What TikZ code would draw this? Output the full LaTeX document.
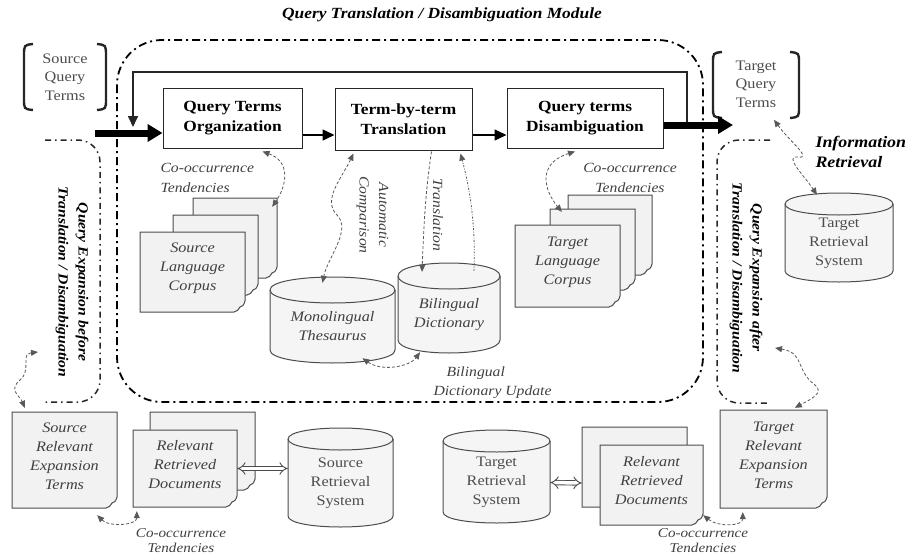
\documentclass[tikz,border=0pt]{standalone}
\usepackage{fontspec}
\setmainfont[FakeStretch=1.12]{Liberation Serif}
\usetikzlibrary{arrows.meta,calc}

\newcommand\txtsz{\fontsize{14.5}{19}\selectfont}
\newcommand\boxsz{\fontsize{15.5}{20}\selectfont}
\newcommand\lblsz{\fontsize{14}{19.5}\selectfont}

\tikzset{
  procbox/.style={draw=black!85,line width=1pt,fill=white,align=center,font=\boxsz\bfseries,inner sep=2pt},
  pagebody/.style={draw=black!70,line width=1pt,fill=black!5},
  pagetext/.style={align=center,font=\txtsz\itshape,text=black!75},
  cylbody/.style={draw=black!70,line width=1pt,fill=black!4},
  cylit/.style={align=center,font=\txtsz\itshape,text=black!75},
  cylrm/.style={align=center,font=\txtsz,text=black!70},
  modborder/.style={draw=black,line width=1.8pt,dash pattern=on 8pt off 4pt on 2pt off 4pt},
  regborder/.style={draw=black!85,line width=1.5pt,dash pattern=on 6pt off 4pt on 1.5pt off 4pt},
  thickarrow/.style={line width=7pt,-{Triangle[length=15pt,width=17pt]}},
  thinarrow/.style={line width=1.5pt,-{Triangle[length=12pt,width=11pt]}},
  fbline/.style={line width=1.6pt,draw=black!85,-{Triangle[length=11pt,width=10pt]}},
  conn/.style={draw=black!65,line width=0.8pt,dash pattern=on 3pt off 2pt},
  ct/.tip={Triangle[length=7pt,width=6pt]},
  bracket/.style={line width=2.4pt,draw=black!85},
  dblarrow/.style={draw=black!70,line width=0.9pt,double=white,double distance=3.5pt,{Implies}-{Implies}},
  lbl/.style={align=center,font=\lblsz\itshape,text=black!75},
  botlbl/.style={align=center,font=\fontsize{13.5}{15}\selectfont\itshape,text=black!75},
  bilbl/.style={align=left,font=\fontsize{16}{20}\selectfont\bfseries\itshape},
  regtext/.style={align=center,font=\fontsize{14}{20}\selectfont\bfseries\itshape,rotate=-90},
  qtxt/.style={align=center,font=\fontsize{14.5}{18.5}\selectfont,text=black!70},
}

% cylinder: name, x1, ytop, x2, ybot, ry, text style, text
\newcommand\dbcyl[8]{%
  \pgfmathsetmacro\cylcx{(#2+#4)/2}%
  \pgfmathsetmacro\cyla{#3+#6}%
  \pgfmathsetmacro\cylb{#5-#6}%
  \pgfmathsetmacro\cylcy{(#3+#5)/2}%
  \pgfmathsetmacro\cylk{1.333*#6}%
  \filldraw[cylbody] (#2,\cyla) -- (#2,\cylb) .. controls (#2,\cylb+\cylk) and (#4,\cylb+\cylk) .. (#4,\cylb)
     -- (#4,\cyla) .. controls (#4,\cyla-\cylk) and (#2,\cyla-\cylk) .. (#2,\cyla) -- cycle;
  \draw[cylbody,fill=none] (#2,\cyla) .. controls (#2,\cyla+\cylk) and (#4,\cyla+\cylk) .. (#4,\cyla);
  \node[inner sep=0pt,minimum width={(#4-#2)*1pt},minimum height={(#5-#3)*1pt},
        label={[#7,yshift={-0.5*#6*1pt}]center:{#8}}] (#1) at (\cylcx,\cylcy) {};
}

% document page: name, x1, y1, x2, y2, text
\newcommand\docpage[6]{%
  \filldraw[pagebody] (#2,#3) -- (#4,#3) -- (#4,#5-11) .. controls (#4-1,#5-7) and (#4-3,#5-5) .. (#4-5,#5-5)
     .. controls (#4-6,#5-2) and (#4-8,#5-1) .. (#4-11,#5) -- (#2,#5) -- cycle;
  \node[inner sep=0pt,minimum width={(#4-#2)*1pt},minimum height={(#5-#3)*1pt},
        label={[pagetext,yshift=4pt]center:{#6}}] (#1) at ({(#2+#4)/2},{(#3+#5)/2}) {};
}

\begin{document}
\begin{tikzpicture}[x=1pt,y=-1pt]
\useasboundingbox (0,0) rectangle (911,558);

% title
\node[font=\fontsize{15.5}{18}\selectfont\bfseries\itshape] (title) at (442,15) {Query Translation / Disambiguation Module};

% regions
\draw[modborder,rounded corners=45pt] (117,40) rectangle (703,402);
\draw[regborder,rounded corners=22pt] (45,140) -- (100,140) -- (100,402) -- (45,402);
\draw[regborder,rounded corners=22pt] (770,140) -- (717,140) -- (717,403) -- (770,403);
\node[regtext] (qeb) at (72,282) {Query Expansion before\\Translation / Disambiguation};
\node[regtext] (qea) at (746,278) {Query Expansion after\\Translation / Disambiguation};

% query term brackets
\node[qtxt] (srcq) at (65,77) {Source\\Query\\Terms};
\draw[bracket] (33,44) .. controls (24,45) .. (24,56) -- (24,99) .. controls (24,109) .. (33,110);
\draw[bracket] (97,44) .. controls (106,45) .. (106,56) -- (106,99) .. controls (106,109) .. (97,110);
\node[qtxt] (tgtq) at (756,84) {Target\\Query\\Terms};
\draw[bracket] (722,52) .. controls (713,53) .. (713,63) -- (713,107) .. controls (713,117) .. (722,118);
\draw[bracket] (790,52) .. controls (799,53) .. (799,63) -- (799,107) .. controls (799,117) .. (790,118);

% process boxes
\node[procbox,minimum width=139pt,minimum height=60pt] (qto) at (232.5,118) {Query Terms\\Organization};
\node[procbox,minimum width=137pt,minimum height=62pt] (tbt) at (403.5,119) {Term-by-term\\Translation};
\node[procbox,minimum width=156pt,minimum height=60pt] (qtd) at (585,118) {Query terms\\Disambiguation};

% main flow
\coordinate (inL) at (95,133);
\coordinate (midy) at (0,135);
\coordinate (tgtIn) at (733,125);
\coordinate (fbR) at (687,125);
\coordinate (fbTop) at (400,72);
\coordinate (fbL) at (133,127);
\draw[fbline] (fbR) |- (fbTop) -| (fbL);
\draw[thickarrow] (inL) -- (inL -| qto.west);
\draw[thinarrow] (qto.east |- midy) -- (tbt.west |- midy);
\draw[thinarrow] (tbt.east |- midy) -- (qtd.west |- midy);
\draw[thickarrow] (qtd.east |- tgtIn) -- (tgtIn);

% corpora
\docpage{srccorp3}{193}{198}{277}{278}{}
\docpage{srccorp2}{173}{215}{258}{295}{}
\docpage{srccorp}{140}{232}{245}{312}{Source\\Language\\Corpus}
\docpage{tgtcorp3}{568}{195}{652}{275}{}
\docpage{tgtcorp2}{550}{209}{635}{290}{}
\docpage{tgtcorp}{515}{225}{620}{307}{Target\\Language\\Corpus}

% databases
\dbcyl{mono}{270}{277}{395}{363}{13}{cylit}{Monolingual\\Thesaurus}
\dbcyl{bili}{398}{263}{500}{353}{13}{cylit}{Bilingual\\Dictionary}
\dbcyl{trs}{785}{193}{893}{282}{11}{cylrm}{Target\\Retrieval\\System}
\dbcyl{srs}{288}{428}{393}{527}{11}{cylrm}{Source\\Retrieval\\System}
\dbcyl{trs2}{443}{430}{550}{523}{11}{cylrm}{Target\\Retrieval\\System}

% bottom documents
\docpage{srelexp}{12}{412}{117}{508}{Source\\Relevant\\Expansion\\Terms}
\docpage{relL2}{150}{412}{255}{490}{}
\docpage{relL}{133}{430}{237}{507}{Relevant\\Retrieved\\Documents}
\docpage{relR2}{582}{427}{687}{507}{}
\docpage{relR}{600}{445}{703}{525}{Relevant\\Retrieved\\Documents}
\docpage{trelexp}{720}{410}{827}{508}{Target\\Relevant\\Expansion\\Terms}

\draw[dblarrow] (relL.east) -- (relL.east -| srs.west);
\draw[dblarrow] ($(trs2.east)+(0,6)$) -- ($(relR2.west)+(0,16)$);

% labels
\node[lbl,anchor=west,align=left] (coL) at (157,178) {Co-occurrence\\Tendencies};
\node[lbl] (coR) at (630,178) {Co-occurrence\\Tendencies};
\node[botlbl] (coBL) at (181,541) {Co-occurrence\\Tendencies};
\node[botlbl] (coBR) at (703,541) {Co-occurrence\\Tendencies};
\node[lbl,rotate=-90] (autoc) at (372.5,215) {Automatic\\Comparison};
\node[lbl,rotate=-90] (transl) at (438,215) {Translation};
\node[lbl,anchor=west] (bdu1) at (443,373) {Bilingual};
\node[lbl,anchor=west] (bdu2) at (430,392) {Dictionary Update};
\node[bilbl,anchor=west] (ir) at (812,152) {Information\\Retrieval};

% dashed connectors
\draw[conn,{ct}-{ct}] ($(qto.south)+(30,3)$) .. controls +(28,10) and +(15,-22) .. ($(srccorp3.north east)+(-5,9)$);
\draw[conn,{ct}-{ct}] ($(qtd.south)+(-10,3)$) .. controls +(-38,12) and +(-18,-22) .. ($(tgtcorp2.north west)+(12,3)$);
\coordinate (acmid) at (337,215);
\draw[conn,{ct}-{ct}] ($(tbt.south)+(-50,3)$) .. controls +(-12,25) and +(-15,-15) .. (acmid) .. controls +(15,15) and +(5,-25) .. ($(mono.north)+(-10,6)$);
\draw[conn,-{ct}] ($(tbt.south)+(28,1)$) .. controls +(-6,40) and +(2,-50) .. ($(bili.north)+(-27,9)$);
\draw[conn,dash pattern=on 2pt off 1.5pt on 0.8pt off 1.5pt,-{ct}] ($(bili.north)+(25,8)$) .. controls +(2,-50) and +(8,30) .. ($(tbt.south)+(57,3)$);
\draw[conn,{ct}-{ct}] ($(mono.south)+(30,-5)$) .. controls +(20,14) and +(-10,14) .. ($(bili.south)+(-29,-1)$);
\coordinate (irmid) at (798,157);
\draw[conn,{ct}-{ct}] ($(tgtq.south east)+(-6,9)$) .. controls +(16,22) and +(15,2) .. (irmid) .. controls +(-15,-2) and +(-12,-18) .. ($(trs.north)+(-22,2)$);
\coordinate (qebpt) at (38,352);
\coordinate (qebmid) at (20,380);
\draw[conn,{ct}-{ct}] (qebpt) .. controls +(-18,2) and +(12,-10) .. (qebmid) .. controls +(-12,10) and +(-5,-12) .. ($(srelexp.north west)+(13,-4)$);
\coordinate (qeapt) at (775,348);
\coordinate (qeamid) at (815,385);
\draw[conn,{ct}-{ct}] (qeapt) .. controls +(30,5) and +(-20,-15) .. (qeamid) .. controls +(10,8) and +(15,-8) .. ($(trelexp.north west)+(75,-2)$);
\draw[conn,{ct}-{ct}] ($(srelexp.south east)+(-20,7)$) .. controls +(12,12) and +(0,14) .. ($(relL.south west)+(4,4)$);
\draw[conn,{ct}-{ct}] ($(relR.south east)+(0,-10)$) .. controls +(15,12) and +(0,14) .. ($(trelexp.south west)+(23,4)$);

\end{tikzpicture}
\end{document}
